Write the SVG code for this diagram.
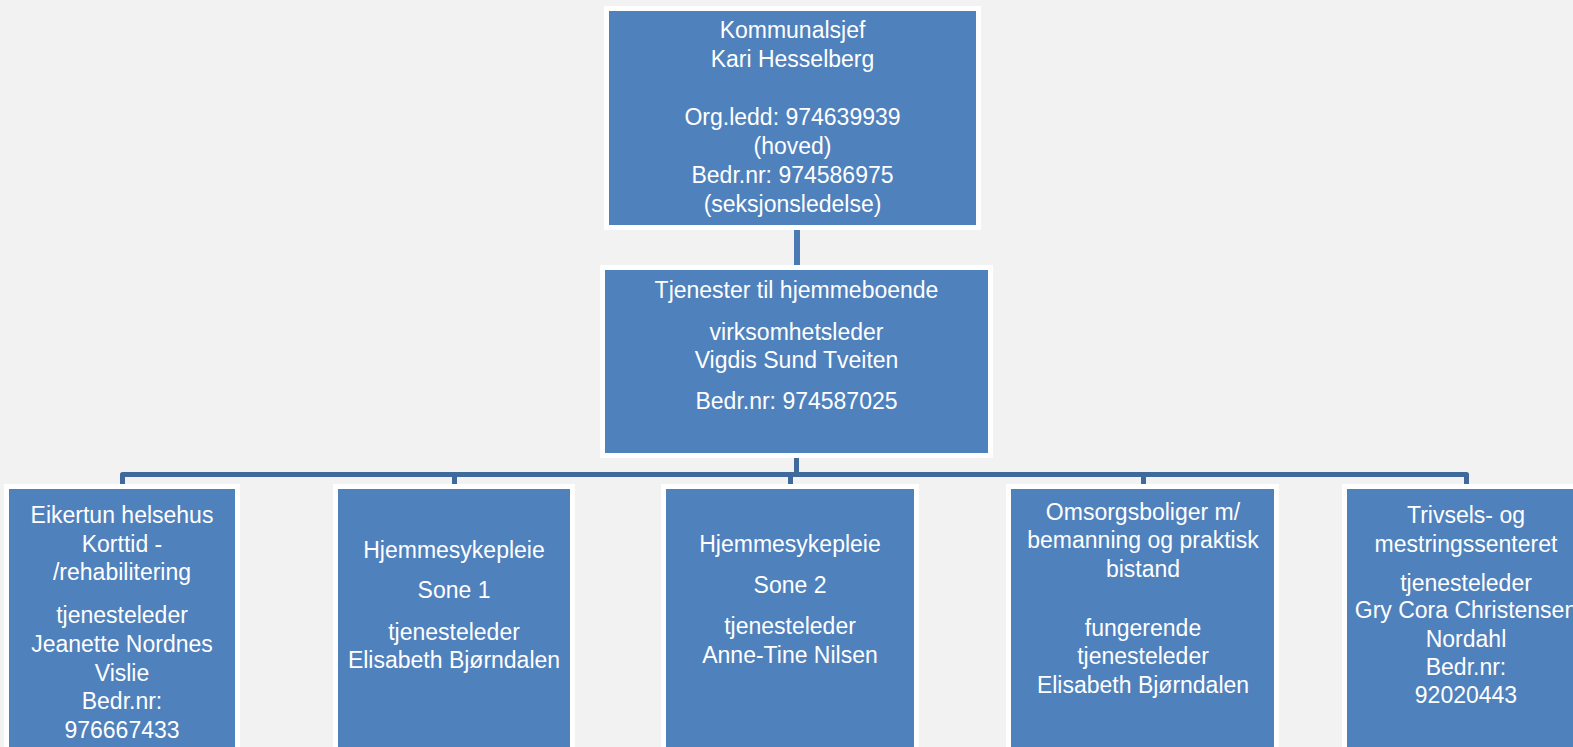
<svg xmlns="http://www.w3.org/2000/svg" width="1573" height="747" viewBox="0 0 1573 747">
<style>
.bg{fill:#F2F2F2}
.box{fill:#4F81BD;stroke:#FFFFFF;stroke-width:5}
.t{font-family:"Liberation Sans",Arial,sans-serif;font-size:23px;fill:#FFFFFF;text-anchor:middle}
.c1{stroke:#4A79B3;stroke-width:6;fill:none}
.c2{stroke:#3F6A9B;stroke-width:5;fill:none;stroke-linejoin:round}
</style>
<rect class="bg" x="0" y="0" width="1573" height="747"/>
<g id="connectors">
<line class="c1" x1="797" y1="229" x2="797" y2="266"/>
<line class="c2" x1="796.5" y1="457" x2="796.5" y2="474.5"/>
<path class="c2" d="M122.5 486 V474.5 H1466.5 V486"/>
<line class="c2" x1="454.5" y1="474.5" x2="454.5" y2="486"/>
<line class="c2" x1="790.5" y1="474.5" x2="790.5" y2="486"/>
<line class="c2" x1="1143.5" y1="474.5" x2="1143.5" y2="486"/>
</g>
<g id="node-kommunalsjef">
<rect class="box" x="606.5" y="8.5" width="372" height="219"/>
<text class="t" x="792.5" y="38">Kommunalsjef</text>
<text class="t" x="792.5" y="67">Kari Hesselberg</text>
<text class="t" x="792.5" y="125">Org.ledd: 974639939</text>
<text class="t" x="792.5" y="154">(hoved)</text>
<text class="t" x="792.5" y="183">Bedr.nr: 974586975</text>
<text class="t" x="792.5" y="212">(seksjonsledelse)</text>
</g>
<g id="node-tjenester">
<rect class="box" x="602.5" y="267.5" width="388" height="188"/>
<text class="t" x="796.5" y="298">Tjenester til hjemmeboende</text>
<text class="t" x="796.5" y="340">virksomhetsleder</text>
<text class="t" x="796.5" y="368">Vigdis Sund Tveiten</text>
<text class="t" x="796.5" y="409">Bedr.nr: 974587025</text>
</g>
<g id="node-eikertun">
<rect class="box" x="6.5" y="486.5" width="231" height="280"/>
<text class="t" x="122" y="523">Eikertun helsehus</text>
<text class="t" x="122" y="552">Korttid -</text>
<text class="t" x="122" y="580">/rehabilitering</text>
<text class="t" x="122" y="623">tjenesteleder</text>
<text class="t" x="122" y="652">Jeanette Nordnes</text>
<text class="t" x="122" y="681">Vislie</text>
<text class="t" x="122" y="709">Bedr.nr:</text>
<text class="t" x="122" y="738">976667433</text>
</g>
<g id="node-sone1">
<rect class="box" x="335.5" y="486.5" width="237" height="280"/>
<text class="t" x="454" y="558">Hjemmesykepleie</text>
<text class="t" x="454" y="598">Sone 1</text>
<text class="t" x="454" y="640">tjenesteleder</text>
<text class="t" x="454" y="668">Elisabeth Bjørndalen</text>
</g>
<g id="node-sone2">
<rect class="box" x="663.5" y="486.5" width="253" height="280"/>
<text class="t" x="790" y="552">Hjemmesykepleie</text>
<text class="t" x="790" y="593">Sone 2</text>
<text class="t" x="790" y="634">tjenesteleder</text>
<text class="t" x="790" y="663">Anne-Tine Nilsen</text>
</g>
<g id="node-omsorgsboliger">
<rect class="box" x="1008.5" y="486.5" width="268" height="280"/>
<text class="t" x="1143" y="520">Omsorgsboliger m/</text>
<text class="t" x="1143" y="548">bemanning og praktisk</text>
<text class="t" x="1143" y="577">bistand</text>
<text class="t" x="1143" y="636">fungerende</text>
<text class="t" x="1143" y="664">tjenesteleder</text>
<text class="t" x="1143" y="693">Elisabeth Bjørndalen</text>
</g>
<g id="node-trivsel">
<rect class="box" x="1344.5" y="486.5" width="243" height="280"/>
<text class="t" x="1466" y="523">Trivsels- og</text>
<text class="t" x="1466" y="552">mestringssenteret</text>
<text class="t" x="1466" y="591">tjenesteleder</text>
<text class="t" x="1466" y="618">Gry Cora Christensen</text>
<text class="t" x="1466" y="647">Nordahl</text>
<text class="t" x="1466" y="675">Bedr.nr:</text>
<text class="t" x="1466" y="703">92020443</text>
</g>
</svg>
